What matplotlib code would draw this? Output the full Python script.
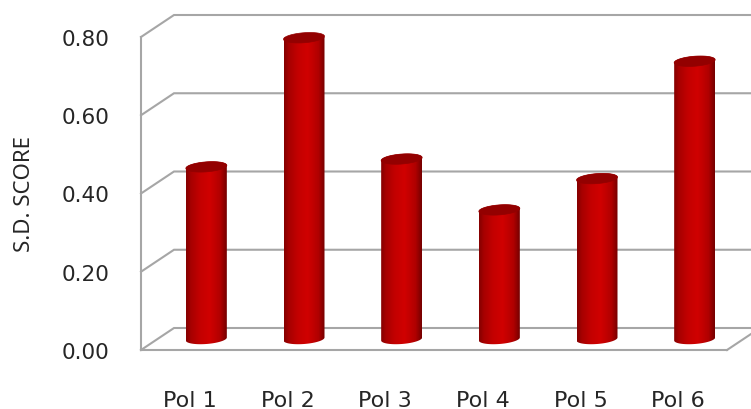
import matplotlib.pyplot as plt
import numpy as np
from matplotlib.colors import LinearSegmentedColormap
from matplotlib.patches import Polygon

categories = ['Pol 1', 'Pol 2', 'Pol 3', 'Pol 4', 'Pol 5', 'Pol 6']
scores = [0.44, 0.77, 0.46, 0.33, 0.41, 0.71]
y_ticks = [0.0, 0.2, 0.4, 0.6, 0.8]

GREY = '#a6a6a6'
TEXT = '#262626'

fig = plt.figure(figsize=(7.51, 4.10), dpi=100)
ax = fig.add_axes([141 / 751, 59 / 410, 586 / 751, 313 / 410])
ax.set_facecolor('none')

px_x = 586 / 6      # pixels per category
px_y = 313 / 0.8    # pixels per unit of score
depth_x = 33 / px_x
depth_y = 22 / px_y

# walls and gridlines of the 3D box
for v in y_ticks:
    ax.plot([-0.5, -0.5 + depth_x, 6], [v, v + depth_y, v + depth_y],
            color=GREY, lw=1.5, clip_on=False, zorder=1, solid_joinstyle='miter')
ax.plot([5.5, 5.5 + depth_x], [0, depth_y], color=GREY, lw=1.5, clip_on=False, zorder=1)

gradient = LinearSegmentedColormap.from_list(
    'cyl', [(0, '#860000'), (0.12, '#a80000'), (0.35, '#c40000'), (0.58, '#d00000'),
            (0.85, '#b00000'), (1, '#760000')])
shade = np.linspace(0, 1, 64).reshape(1, -1)

half_w = 20.5 / px_x
ell_h = 5 / px_y
tilt = 1.5 / px_y
t = np.linspace(0, 2 * np.pi, 121)

for i, score in enumerate(scores):
    cx = i + depth_x / 2
    base = depth_y / 2
    top = score + depth_y / 2

    ex = cx + half_w * np.cos(t)
    ey = ell_h * np.sin(t) + tilt * np.cos(t)

    # body outline: lower half of bottom ellipse, then up and over the top ellipse
    lower = t[60:121]
    upper = t[:61]
    body_x = np.r_[cx + half_w * np.cos(lower), cx + half_w * np.cos(upper)]
    body_y = np.r_[base + ell_h * np.sin(lower) + tilt * np.cos(lower),
                   top + ell_h * np.sin(upper) + tilt * np.cos(upper)]
    body = Polygon(np.c_[body_x, body_y], closed=True, transform=ax.transData,
                   facecolor='none', edgecolor='none')
    ax.add_patch(body)
    im = ax.imshow(shade, cmap=gradient, aspect='auto', zorder=3, interpolation='bilinear',
                   extent=(cx - half_w, cx + half_w, base - 2 * ell_h, top + 2 * ell_h))
    im.set_clip_path(body)
    ax.fill(ex, top + ey, color='#930000', zorder=4, lw=0.5, clip_on=False)

ax.set_xlim(-0.5, 5.5)
ax.set_ylim(0, 0.8)

for side in ['top', 'right']:
    ax.spines[side].set_visible(False)
for side in ['left', 'bottom']:
    ax.spines[side].set_color(GREY)
    ax.spines[side].set_linewidth(1.5)

ax.set_xticks(range(len(categories)))
ax.set_xticklabels(categories, fontsize=16, family='DejaVu Sans', color=TEXT)
ax.set_yticks(y_ticks)
ax.set_yticklabels([f'{v:.2f}' for v in y_ticks], fontsize=15.5, family='DejaVu Sans', color=TEXT)
ax.tick_params(axis='x', length=0, pad=29)
ax.tick_params(axis='y', length=0, pad=23)
ax.set_ylabel('S.D. SCORE', fontsize=16, family='Noto Sans', color=TEXT, labelpad=19)

fig.savefig('out.png', dpi=100)
